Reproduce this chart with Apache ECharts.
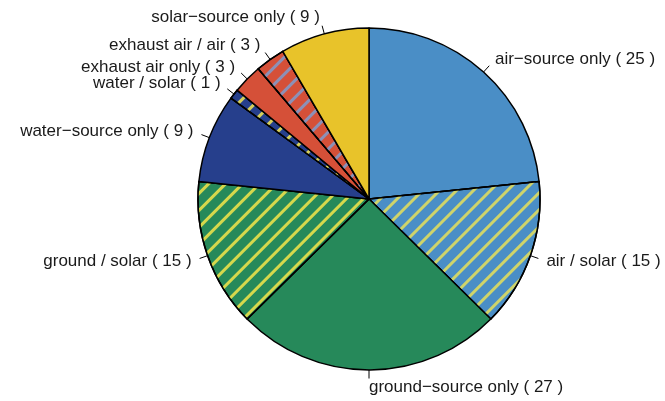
<!DOCTYPE html>
<html>
<head>
<meta charset="utf-8">
<script src="https://cdn.jsdelivr.net/npm/echarts@6/dist/echarts.min.js"></script>
<style>
    html, body {margin: 0; padding: 0; background: #fff;}
    #chart {width: 665px; height: 401px;}
</style>
</head>
<body>
<div id="chart"></div>
<script>
    // slices, clockwise from 12 o'clock
    var names = ['air−source only', 'air / solar', 'ground−source only', 'ground / solar',
        'water−source only', 'water / solar', 'exhaust air only', 'exhaust air / air', 'solar−source only'];
    var counts = [25, 15, 27, 15, 9, 1, 3, 3, 9];
    var fills = ['#4a8ec6', '#4a8ec6', '#26895a', '#26895a', '#263f8c', '#263f8c', '#d55038', '#d55038', '#e8c32a'];
    // stripe colour for the hatched slices, null = plain
    var stripes = [null, '#cfd46a', null, '#d6d84c', null, '#d6cf5a', null, '#8c90b6', null];

    var myChart = echarts.init(document.getElementById('chart'), null, {renderer: 'canvas'});

    var data = names.map(function (n, i) {
        var item = {name: n, value: counts[i], itemStyle: {color: fills[i]}};
        if (stripes[i]) {
            item.itemStyle.decal = {
                symbol: 'rect',
                symbolSize: 1,
                color: stripes[i],
                dashArrayX: [1, 0],
                dashArrayY: [2.2, 8.3],
                rotation: -Math.PI / 4
            };
        }
        return item;
    });

    var option = {
        animation: false,
        backgroundColor: '#fff',
        series: [{
            type: 'pie',
            center: [369, 199],
            radius: 171,
            startAngle: 90,
            clockwise: true,
            avoidLabelOverlap: false,
            data: data,
            itemStyle: {borderColor: '#000', borderWidth: 1.5},
            label: {
                show: true,
                position: 'outside',
                formatter: '{b} ( {c} )',
                fontFamily: 'Liberation Sans, Arial, sans-serif',
                fontSize: 17,
                color: '#1a1a1a',
                distanceToLabelLine: 0
            },
            labelLine: {
                show: true,
                length: 17,
                length2: 0,
                lineStyle: {color: '#000', width: 1}
            },
            // text sits at 1.1r, tick only reaches about halfway out
            labelLayout: function (p) {
                var pts = p.labelLinePoints;
                if (!pts) return {};
                var a = pts[0], b = pts[1];
                var m = [a[0] + (b[0] - a[0]) * 0.5, a[1] + (b[1] - a[1]) * 0.5];
                return {labelLinePoints: [a, m, m]};
            },
            emphasis: {disabled: true}
        }]
    };
    myChart.setOption(option);
</script>
</body>
</html>
